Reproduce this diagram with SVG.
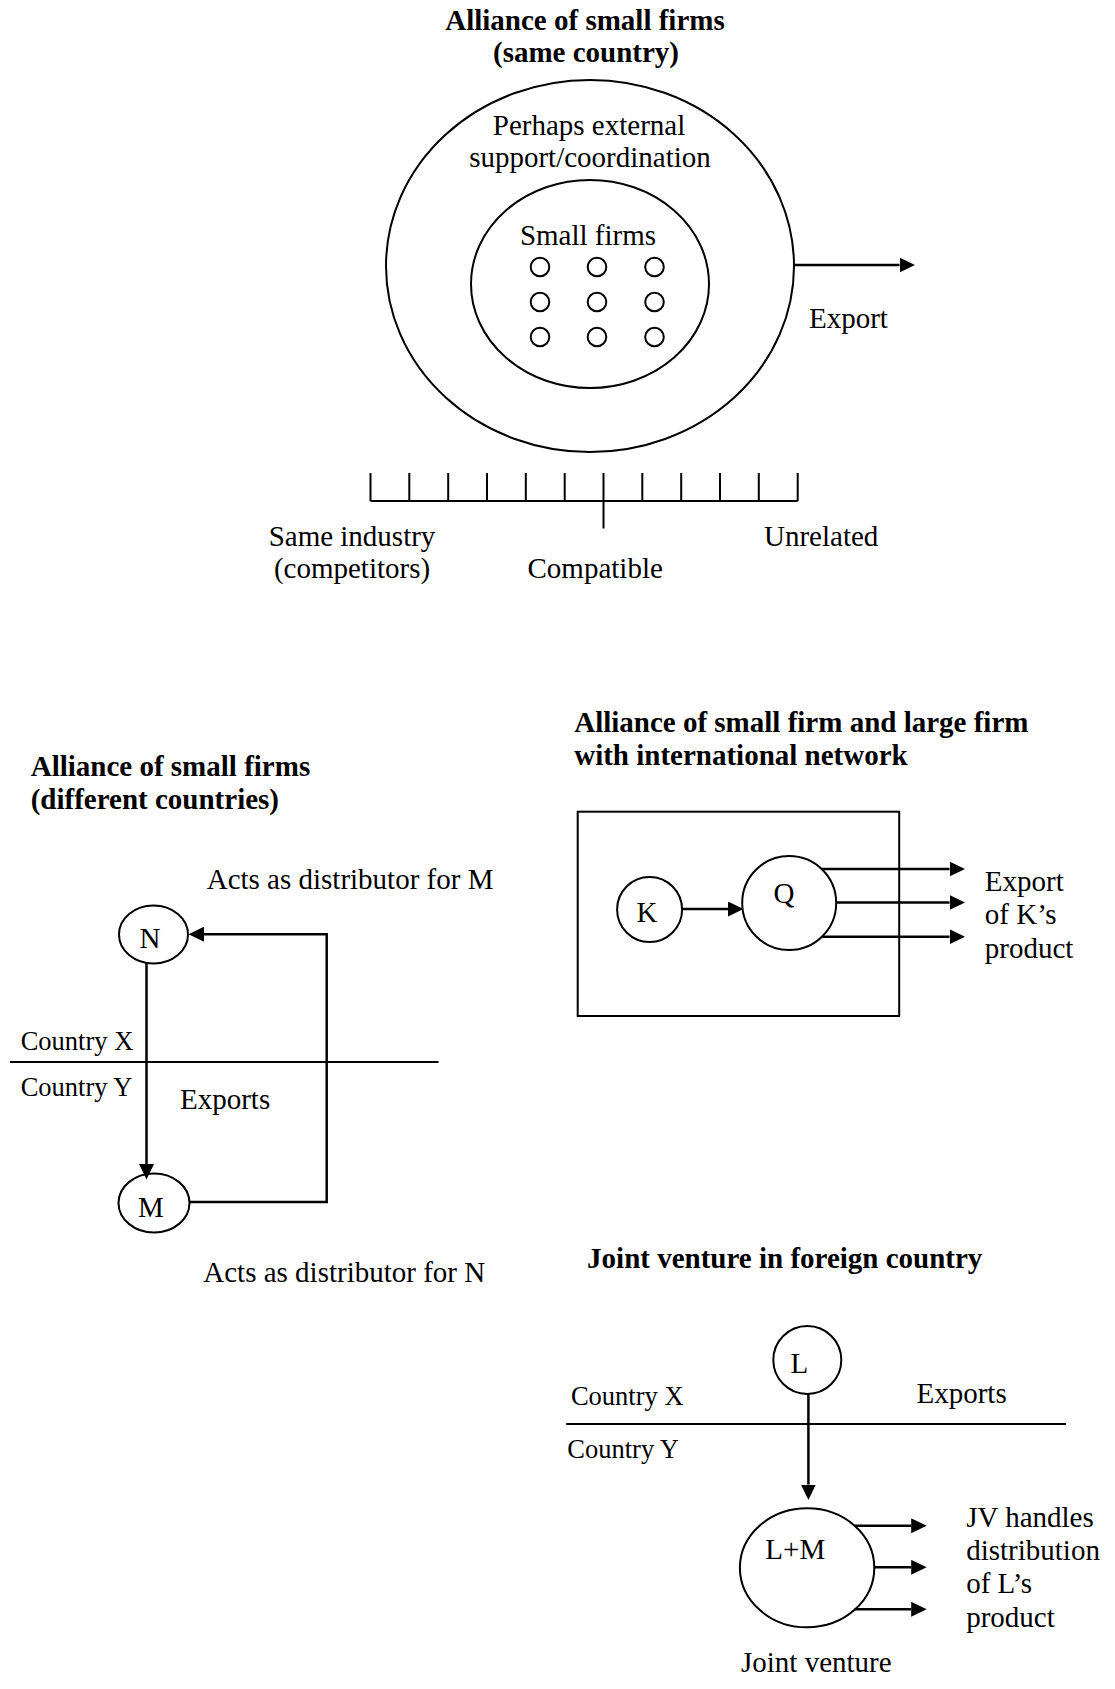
<svg xmlns="http://www.w3.org/2000/svg" width="1115" height="1689" viewBox="0 0 1115 1689">
  <style>
    text { font-family: "Liberation Serif", "Times New Roman", serif; font-size: 29px; fill: #000; }
    .b { font-weight: bold; }
    .c { text-anchor: middle; }
    .sm { font-size: 26.5px; }
    .shape { fill: none; stroke: #000; stroke-width: 2; }
    .conn { fill: none; stroke: #000; stroke-width: 2.5; }
  </style>
  <defs>
    <marker id="arrow" viewBox="0 0 15.5 15" refX="0" refY="7.5" markerWidth="15.5" markerHeight="15" markerUnits="userSpaceOnUse" orient="auto">
      <path d="M0,0 L15.5,7.5 L0,15 z" fill="#000"/>
    </marker>
  </defs>

  <rect width="1115" height="1689" fill="#fff"/>

  <!-- Panel 1: alliance of small firms in the same country -->
  <g id="title-same-country">
    <text class="b c" x="585" y="30">Alliance of small firms</text>
    <text class="b c" x="586" y="62">(same country)</text>
  </g>
  <g id="outer-support">
    <ellipse class="shape" cx="590" cy="266" rx="204" ry="186"/>
    <text class="c" x="589" y="135">Perhaps external</text>
    <text class="c" x="590" y="167">support/coordination</text>
  </g>
  <g id="small-firms">
    <ellipse class="shape" cx="590" cy="284" rx="119" ry="104"/>
    <text class="c" x="588" y="245">Small firms</text>
    <g class="shape">
      <circle cx="540" cy="267" r="9.3"/><circle cx="597" cy="267" r="9.3"/><circle cx="654.5" cy="267" r="9.3"/>
      <circle cx="540" cy="302" r="9.3"/><circle cx="597" cy="302" r="9.3"/><circle cx="654.5" cy="302" r="9.3"/>
      <circle cx="540" cy="337" r="9.3"/><circle cx="597" cy="337" r="9.3"/><circle cx="654.5" cy="337" r="9.3"/>
    </g>
  </g>
  <g id="export-label">
    <text x="809" y="328">Export</text>
  </g>
  <g id="relatedness-scale">
    <path class="shape" d="M370.5,501 H797.7 M370.5,473 V501 M409.3,473 V501 M448.2,473 V501 M487,473 V501 M525.8,473 V501 M564.7,473 V501 M603.5,473 V528.5 M642.3,473 V501 M681.2,473 V501 M720,473 V501 M758.8,473 V501 M797.7,473 V501"/>
    <text class="c" x="352" y="546">Same industry</text>
    <text class="c" x="352" y="578">(competitors)</text>
    <text x="527.5" y="578">Compatible</text>
    <text x="764" y="546">Unrelated</text>
  </g>

  <!-- Panel 2: alliance of small firms in different countries -->
  <g id="title-different-countries">
    <text class="b" x="30.7" y="775.5">Alliance of small firms</text>
    <text class="b" x="30.7" y="809">(different countries)</text>
  </g>
  <g id="border-xy">
    <line class="shape" x1="10" y1="1062" x2="438.5" y2="1062"/>
    <text class="sm" x="20.7" y="1050">Country X</text>
    <text class="sm" x="20.7" y="1096">Country Y</text>
    <text x="180" y="1109">Exports</text>
  </g>
  <g id="node-N">
    <ellipse class="shape" cx="153.5" cy="934.5" rx="34.5" ry="29"/>
    <text class="c" x="150" y="948">N</text>
  </g>
  <g id="node-M">
    <ellipse class="shape" cx="154" cy="1203" rx="35.5" ry="29.5"/>
    <text class="c" x="151" y="1217">M</text>
  </g>
  <text x="206.7" y="889">Acts as distributor for M</text>
  <text x="203.3" y="1282">Acts as distributor for N</text>

  <!-- Panel 3: small firm with a large firm's international network -->
  <g id="title-large-firm">
    <text class="b" x="574.2" y="731.7">Alliance of small firm and large firm</text>
    <text class="b" x="574.2" y="765">with international network</text>
  </g>
  <g id="network-box">
    <rect class="shape" x="577.7" y="811.7" width="321.5" height="204.3" stroke-width="2.3"/>
  </g>
  <g id="node-K">
    <circle class="shape" cx="649.6" cy="909.5" r="32.5"/>
    <text class="c" x="647" y="921.7">K</text>
  </g>
  <g id="node-Q">
    <circle class="shape" cx="789.2" cy="903" r="47"/>
    <text class="c" x="784" y="903">Q</text>
  </g>
  <g id="export-K">
    <text x="984.8" y="890.7">Export</text>
    <text x="984.8" y="924">of K’s</text>
    <text x="984.8" y="958.3">product</text>
  </g>

  <!-- Panel 4: joint venture in a foreign country -->
  <g id="title-joint-venture">
    <text class="b" x="587.1" y="1268.3">Joint venture in foreign country</text>
  </g>
  <g id="border-xy-jv">
    <line class="shape" x1="566.2" y1="1424" x2="1066" y2="1424"/>
    <text class="sm" x="570.9" y="1405">Country X</text>
    <text class="sm" x="567.3" y="1458.3">Country Y</text>
    <text x="916.5" y="1403.3">Exports</text>
  </g>
  <g id="node-L">
    <circle class="shape" cx="807.3" cy="1360" r="34"/>
    <text class="c" x="799.4" y="1373.3">L</text>
  </g>
  <g id="node-LM">
    <ellipse class="shape" cx="807.1" cy="1567.8" rx="67.2" ry="59.5"/>
    <text class="c" x="795.3" y="1559.3">L+M</text>
    <text x="741" y="1671.7">Joint venture</text>
  </g>
  <g id="jv-distribution">
    <text x="966.2" y="1526.7">JV handles</text>
    <text x="966.2" y="1560">distribution</text>
    <text x="966.2" y="1593.3">of L’s</text>
    <text x="966.2" y="1626.7">product</text>
  </g>

  <!-- Connectors -->
  <g id="connectors" class="conn">
    <path d="M794.3,265 H899.5" marker-end="url(#arrow)"/>
    <path d="M146.5,963 V1164" marker-end="url(#arrow)"/>
    <path d="M189.5,1202 H326.7 V934.2 H204" marker-end="url(#arrow)"/>
    <path d="M682.1,909 H728" marker-end="url(#arrow)"/>
    <path d="M821.6,869 H949.5" marker-end="url(#arrow)"/>
    <path d="M836.2,902.5 H949.5" marker-end="url(#arrow)"/>
    <path d="M822,936.7 H949.5" marker-end="url(#arrow)"/>
    <path d="M808.4,1394 V1484.5" marker-end="url(#arrow)"/>
    <path d="M854.6,1525.7 H911.2" marker-end="url(#arrow)"/>
    <path d="M874.3,1567.3 H911.2" marker-end="url(#arrow)"/>
    <path d="M854.6,1609.3 H911.2" marker-end="url(#arrow)"/>
  </g>
</svg>
